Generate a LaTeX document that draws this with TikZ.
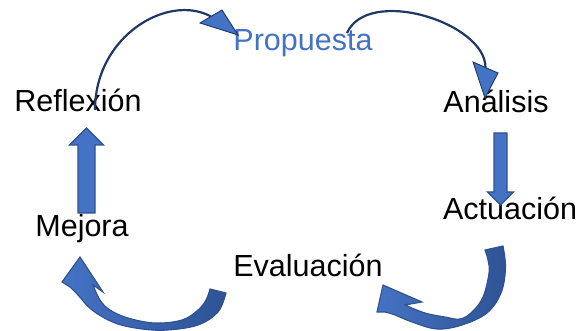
\documentclass[tikz,border=0pt]{standalone}
\usepackage{fontspec}
\setmainfont{Liberation Sans}
\usetikzlibrary{calc}
\definecolor{ablue}{HTML}{4472C4}
\definecolor{adark}{HTML}{2F528F}
\definecolor{ashade}{HTML}{2E5395}
\definecolor{navy}{HTML}{1F3864}
\begin{document}
\begin{tikzpicture}[x=1pt,y=1pt,
  lbl/.style={font=\fontsize{30.5}{36}\selectfont, inner sep=0pt, anchor=base},
  thinline/.style={draw=navy, line width=2.2pt},
  thinhead/.style={fill=ablue, draw=navy, line width=0.9pt, line join=miter},
  blockarrow/.style={fill=ablue, draw=adark, line width=1.1pt, line join=miter},
  curvedarrow/.style={left color=ablue, right color=ashade, draw=adark, line width=1.1pt, line join=miter}]
\useasboundingbox (0,0) rectangle (584,331);
% labels
\node[lbl] (refl) at (78,219) {Reflexión};
\node[lbl, text=ablue] (prop) at (303,280) {Propuesta};
\node[lbl] (anal) at (496,218) {Análisis};
\node[lbl] (act) at (510,111) {Actuación};
\node[lbl] (eval) at (308,54) {Evaluación};
\node[lbl] (mej) at (82,94) {Mejora};
% thin curved arrow: Reflexion -> Propuesta
\coordinate (r1) at ($(refl.base)+(17,2)$);
\coordinate (p1) at ($(prop.base)+(-65,16)$);
\coordinate (p1b) at ($(p1)+(-27,18.5)$);
\draw[thinline] (r1) .. controls +(0,74) and +(-43,23.5) .. (p1b);
\filldraw[thinhead] (p1) -- ++(-38,12) -- ++(22,13) -- cycle;
% thin curved arrow: Propuesta -> Analisis
\coordinate (p2) at ($(prop.base)+(44,18)$);
\coordinate (a1) at ($(anal.base)+(-11,15)$);
\coordinate (a1b) at ($(a1)+(0.5,30.5)$);
\draw[thinline] (p2) .. controls +(21,47) and +(0,45) .. (a1b);
\filldraw[thinhead] (a1) -- ++(-12,36) -- ++(25,-11) -- cycle;
% straight block arrows
\coordinate (b3) at ($(anal.base)+(4.5,-20)$);
\filldraw[blockarrow] (b3) ++(-6.5,0) -- ++(0,-59) -- ++(-6.5,0) -- ++(13,-13) -- ++(13,13) -- ++(-6.5,0) -- ++(0,59) -- cycle;
\coordinate (b4) at ($(mej.base)+(4.5,24)$);
\filldraw[blockarrow] (b4) ++(-8.5,0) -- ++(0,68) -- ++(-8.5,0) -- ++(17,17) -- ++(17,-17) -- ++(-8.5,0) -- ++(0,-68) -- cycle;
% curved block arrow: Actuacion -> Evaluacion
\shadedraw[curvedarrow] (503,85) -- plot[smooth, tension=0.6] coordinates {(503,85)(505.5,63)(501,38)(487,18)(462,6)(437,2)(412,9)(395,16)(385,19)}
  -- (377,19) -- (383,46) -- (422,29) -- (405,26)
  -- plot[smooth, tension=0.6] coordinates {(405,26)(425,18)(445,14)(460,12)(472,19)(483,34)(489,58)(488,71)(485,81)} -- cycle;
% curved block arrow: Evaluacion -> Mejora
\shadedraw[curvedarrow] (226,38) -- plot[smooth, tension=0.6] coordinates {(226,38)(218,19)(198,6)(168,1)(142,2)(115,8)(92,21)(78,36)(70,44)}
  -- (62,49) -- (80,74) -- (103,39) -- (93,46)
  -- plot[smooth, tension=0.6] coordinates {(93,46)(100,31)(110,21)(128,13)(155,8)(182,11)(198,21)(206,31)(210,42)} -- cycle;
\end{tikzpicture}
\end{document}
